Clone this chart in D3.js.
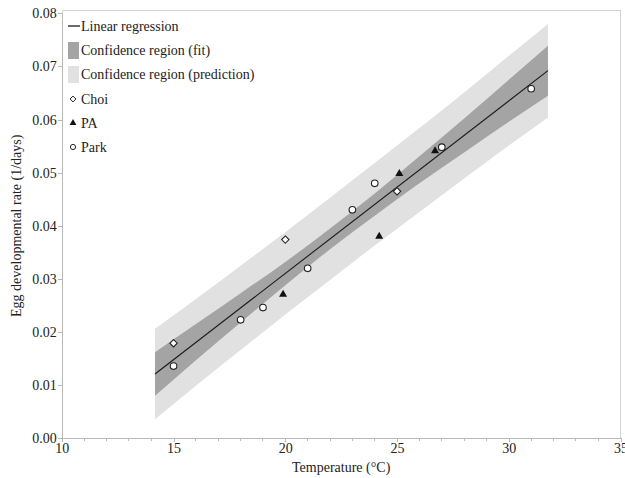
<!DOCTYPE html>
<meta charset="utf-8">
<style>
html, body {
  margin: 0;
  background-color: #fff;
}
svg text {
  font-family: "Liberation Serif", "Times New Roman", serif;
  fill: #222;
}
.axis path, .axis line {
  stroke: #b8b8b8;
  shape-rendering: crispEdges;
}
.frame {
  fill: none;
  stroke: #d4d4d4;
  shape-rendering: crispEdges;
}
</style>
<div id='container'></div>

<script src="https://cdn.jsdelivr.net/npm/d3@7"></script>
<script>

// data
var choiTemp = [15, 20, 25];
var choiRate = [0.0179, 0.0374, 0.0465];

var paTemp = [19.9, 24.2, 25.1, 26.7];
var paRate = [0.0271, 0.0380, 0.0498, 0.0541];

var parkTemp = [15, 18, 19, 21, 23, 24, 27, 31];
var parkRate = [0.0136, 0.0223, 0.0246, 0.0320, 0.0430, 0.0480, 0.0548, 0.0658];

// regression line end points
var lineTemp = [14.17, 31.75];
var lineRate = [0.0121, 0.0692];

// band edges, sampled along temperature
var bandTemp   = [14.17, 16, 18, 20, 22, 24, 26, 28, 30, 31.75];
var predLower  = [0.0036, 0.0099, 0.0166, 0.0233, 0.0298, 0.0363, 0.0426, 0.0489, 0.0551, 0.0604];
var fitLower   = [0.0080, 0.0147, 0.0218, 0.0288, 0.0356, 0.0419, 0.0480, 0.0538, 0.0596, 0.0645];
var fitUpper   = [0.0162, 0.0215, 0.0273, 0.0332, 0.0395, 0.0461, 0.0531, 0.0602, 0.0675, 0.0739];
var predUpper  = [0.0206, 0.0262, 0.0325, 0.0388, 0.0453, 0.0518, 0.0584, 0.0651, 0.0720, 0.0780];

var xTicks = [10, 15, 20, 25, 30, 35];
var yTicks = [0, 0.01, 0.02, 0.03, 0.04, 0.05, 0.06, 0.07, 0.08];

var legendLabels = ["Linear regression", "Confidence region (fit)", "Confidence region (prediction)", "Choi", "PA", "Park"];

var width = 625, height = 478;
var margin = {top: 13.3, left: 61.8, right: 4.4, bottom: 39.7};
var serif = "'Liberation Serif', 'Times New Roman', serif";

var svg = d3.select("#container").append("svg")
    .attr("width", width)
    .attr("height", height);

var x = d3.scaleLinear()
    .domain([10, 35])
    .range([margin.left, width - margin.right]);

var y = d3.scaleLinear()
    .domain([0, 0.08])
    .range([height - margin.bottom, margin.top]);

// light frame on top / right
svg.append("rect")
    .attr("class", "frame")
    .attr("x", x(10) + 0.5)
    .attr("y", y(0.08) - 2.5)
    .attr("width", x(35) - x(10) - 1)
    .attr("height", y(0) - y(0.08) + 2.5);

// bands
var bandArea = function(lo, hi) {
  return d3.area()
      .x(function(d, i) { return x(bandTemp[i]); })
      .y0(function(d, i) { return y(lo[i]); })
      .y1(function(d, i) { return y(hi[i]); })
      .curve(d3.curveMonotoneX)(bandTemp);
};

svg.append("path")
    .attr("d", bandArea(predLower, predUpper))
    .attr("fill", "#e1e1e1");

svg.append("path")
    .attr("d", bandArea(fitLower, fitUpper))
    .attr("fill", "#a4a4a4");

svg.append("line")
    .attr("x1", x(lineTemp[0])).attr("y1", y(lineRate[0]))
    .attr("x2", x(lineTemp[1])).attr("y2", y(lineRate[1]))
    .attr("stroke", "#1a1a1a")
    .attr("stroke-width", 1.1);

// axes
var xAxis = svg.append("g")
    .attr("class", "axis")
    .attr("transform", "translate(0," + y(0) + ")")
    .call(d3.axisBottom(x).tickValues(xTicks).tickSize(4).tickSizeOuter(0).tickFormat(d3.format("d")))
    .attr("font-family", serif)
    .attr("font-size", 14);
xAxis.selectAll("text").attr("y", 5).attr("dy", "0.71em").attr("fill", "#222");

// minor ticks every degree
xAxis.selectAll(".minor")
    .data(d3.range(10, 35).filter(function(d) { return d % 5 !== 0; }))
  .enter().append("line")
    .attr("class", "minor")
    .attr("x1", function(d) { return x(d); })
    .attr("x2", function(d) { return x(d); })
    .attr("y1", 0).attr("y2", 2.5);

var yAxis = svg.append("g")
    .attr("class", "axis")
    .attr("transform", "translate(" + x(10) + ",0)")
    .call(d3.axisLeft(y).tickValues(yTicks).tickSize(4).tickSizeOuter(0).tickFormat(d3.format(".2f")))
    .attr("font-family", serif)
    .attr("font-size", 14);
yAxis.selectAll("text").attr("x", -5).attr("fill", "#222");

svg.append("text")
    .attr("x", (x(10) + x(35)) / 2)
    .attr("y", 472)
    .attr("text-anchor", "middle")
    .style("font-size", "14px")
    .text("Temperature (°C)");

svg.append("text")
    .attr("transform", "translate(21," + ((y(0) + y(0.08)) / 2) + ") rotate(-90)")
    .attr("text-anchor", "middle")
    .style("font-size", "14px")
    .text("Egg developmental rate (1/days)");

// markers
var diamond = d3.symbol().type(d3.symbolDiamond2).size(34);
var triangle = d3.symbol().type(d3.symbolTriangle).size(28);

svg.append("g").selectAll("path")
    .data(choiTemp)
  .enter().append("path")
    .attr("d", diamond)
    .attr("transform", function(d, i) { return "translate(" + x(d) + "," + y(choiRate[i]) + ")"; })
    .attr("fill", "#fff")
    .attr("stroke", "#222")
    .attr("stroke-width", 1.1);

svg.append("g").selectAll("path")
    .data(paTemp)
  .enter().append("path")
    .attr("d", triangle)
    .attr("transform", function(d, i) { return "translate(" + x(d) + "," + y(paRate[i]) + ")"; })
    .attr("fill", "#111");

svg.append("g").selectAll("circle")
    .data(parkTemp)
  .enter().append("circle")
    .attr("cx", function(d) { return x(d); })
    .attr("cy", function(d, i) { return y(parkRate[i]); })
    .attr("r", 3.3)
    .attr("fill", "#fff")
    .attr("stroke", "#222")
    .attr("stroke-width", 1.1);

// legend
var legend = svg.append("g");
var rowY = [26, 50, 74, 99, 123, 147];

legend.selectAll("text")
    .data(legendLabels)
  .enter().append("text")
    .attr("x", 81)
    .attr("y", function(d, i) { return rowY[i]; })
    .attr("dy", "0.35em")
    .style("font-size", "14px")
    .text(function(d) { return d; });

legend.append("line")
    .attr("x1", 68).attr("x2", 80)
    .attr("y1", rowY[0]).attr("y2", rowY[0])
    .attr("stroke", "#1a1a1a").attr("stroke-width", 1.3);
legend.append("rect")
    .attr("x", 68).attr("y", rowY[1] - 8).attr("width", 11).attr("height", 17)
    .attr("fill", "#a4a4a4");
legend.append("rect")
    .attr("x", 68).attr("y", rowY[2] - 8).attr("width", 11).attr("height", 17)
    .attr("fill", "#e1e1e1");
legend.append("path")
    .attr("d", d3.symbol().type(d3.symbolDiamond2).size(22))
    .attr("transform", "translate(73," + rowY[3] + ")")
    .attr("fill", "#fff").attr("stroke", "#222").attr("stroke-width", 1);
legend.append("path")
    .attr("d", d3.symbol().type(d3.symbolTriangle).size(20))
    .attr("transform", "translate(73," + rowY[4] + ")")
    .attr("fill", "#111");
legend.append("circle")
    .attr("cx", 73).attr("cy", rowY[5]).attr("r", 2.6)
    .attr("fill", "#fff").attr("stroke", "#222").attr("stroke-width", 1);

</script>
